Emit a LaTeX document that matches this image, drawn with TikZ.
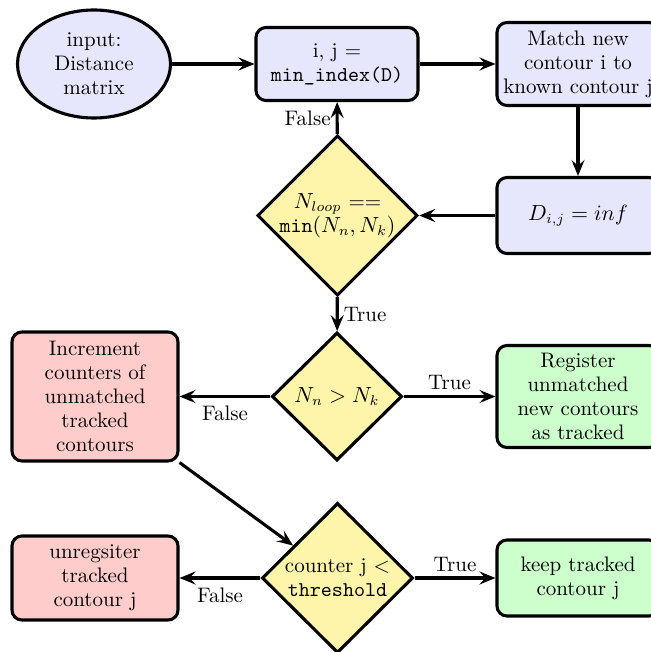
\documentclass[tikz,border=0pt]{standalone}
\usetikzlibrary{shapes.geometric,arrows.meta}

\definecolor{procfill}{RGB}{230,230,252}
\definecolor{decfill}{RGB}{255,245,170}
\definecolor{warnfill}{RGB}{255,204,204}
\definecolor{okfill}{RGB}{204,255,204}

\begin{document}
\begin{tikzpicture}[x=0.5pt,y=-0.5pt,
  base/.style={draw=black,line width=1.55pt,align=center,inner sep=0pt,
    font=\fontsize{10.5}{12}\selectfont},
  proc/.style={base,rounded corners=5pt,fill=procfill},
  warnbox/.style={base,rounded corners=5pt,fill=warnfill},
  okbox/.style={base,rounded corners=5pt,fill=okfill},
  decision/.style={base,diamond,fill=decfill},
  flow/.style={line width=1.55pt,-{Stealth[length=8pt,width=6.5pt,inset=3pt]}},
  lbl/.style={inner sep=2.5pt,font=\fontsize{10.5}{12}\selectfont}]
\useasboundingbox (0,0) rectangle (651,652);
\clip (0,0) rectangle (651,652);

% top row
\node[base,ellipse,fill=procfill,minimum width=76.5pt,minimum height=54pt]
  (input) at (94,64) {input:\\Distance\\matrix};
\node[proc,minimum width=81pt,minimum height=36.5pt]
  (minidx) at (337,64) {i, j =\\\texttt{min\_index(D)}};
\node[proc,minimum width=81pt,minimum height=41.5pt]
  (match) at (578,64) {Match new\\contour i to\\known contour j};

% loop test
\node[proc,minimum width=81pt,minimum height=38pt]
  (setinf) at (578,215.5) {$D_{i,j} = inf$};
\node[decision,minimum width=77.5pt,minimum height=77.5pt]
  (loopdone) at (337.5,215.5) {$N_{loop}$ ==\\\texttt{min}$(N_n,N_k)$};

% count comparison
\node[decision,minimum width=65pt,minimum height=64pt]
  (more) at (337,396.5) {$N_n > N_k$};
\node[warnbox,minimum width=83pt,minimum height=64.5pt]
  (incr) at (95,396.5) {Increment\\counters of\\unmatched\\tracked\\contours};
\node[okbox,minimum width=81pt,minimum height=51pt]
  (register) at (578,396.5) {Register\\unmatched\\new contours\\as tracked};

% threshold test
\node[decision,minimum width=75.5pt,minimum height=75pt]
  (thresh) at (337.5,578) {counter j <\\\texttt{threshold}};
\node[warnbox,minimum width=83pt,minimum height=42pt]
  (unreg) at (95,578) {unregsiter\\tracked\\contour j};
\node[okbox,minimum width=81pt,minimum height=38pt]
  (keep) at (578,578) {keep tracked\\contour j};

% connectors
\draw[flow] (input) -- (minidx);
\draw[flow] (minidx) -- (match);
\draw[flow] (match) -- (setinf);
\draw[flow] (setinf) -- (loopdone);
\draw[flow] (loopdone) -- node[lbl,left] {False} (minidx);
\draw[flow] (loopdone) -- node[lbl,right] {True} (more);
\draw[flow] (more) -- node[lbl,above] {True} (register);
\draw[flow] (more) -- node[lbl,below,yshift=-1.5pt] {False} (incr);
\draw[flow] (incr.south east) -- (thresh);
\draw[flow] (thresh) -- node[lbl,above] {True} (keep);
\draw[flow] (thresh) -- node[lbl,below,yshift=-1.5pt] {False} (unreg);
\end{tikzpicture}
\end{document}
